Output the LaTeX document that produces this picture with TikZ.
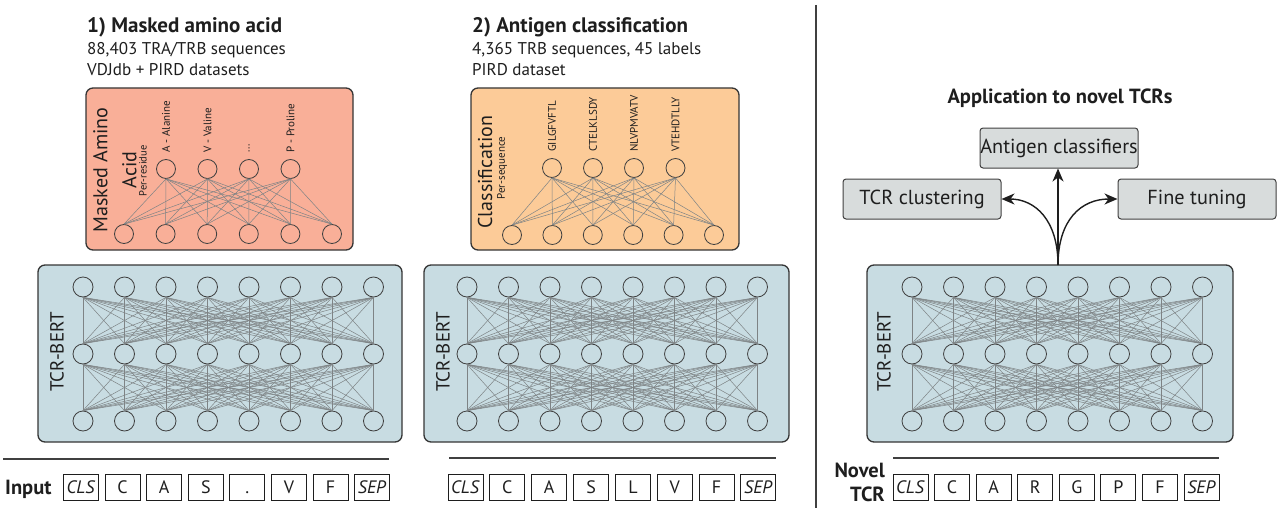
\documentclass[tikz,border=0pt]{standalone}
\usepackage{fontspec}
\setmainfont{PT Sans}
\usetikzlibrary{arrows.meta}
\definecolor{redfill}{HTML}{F9AF98}
\definecolor{orfill}{HTML}{FCCB98}
\definecolor{bluefill}{HTML}{C8DCE2}
\definecolor{grayfill}{HTML}{D8DCDC}
\definecolor{ink}{HTML}{1E1E1E}
\definecolor{edgec}{HTML}{7E8385}
\newcommand{\fs}[1]{\fontsize{#1}{#1}\selectfont}
\tikzset{
  neuron/.style={circle, draw=ink!85, line width=0.8pt, minimum size=20pt, inner sep=0pt},
  smallneuron/.style={circle, draw=ink!85, line width=0.8pt, minimum size=19pt, inner sep=0pt},
  edge/.style={draw=edgec, line width=0.5pt},
  panel/.style={draw=ink!90, line width=1.3pt, rounded corners=7pt, inner sep=0pt},
  tok/.style={draw=ink, line width=1pt, minimum width=35pt, minimum height=26pt, inner sep=0pt, text height=12.6pt, text depth=0pt, font=\fs{18}, text=ink},
  appbox/.style={draw=ink!85, fill=grayfill, rounded corners=3pt, line width=1pt, minimum width=158pt, minimum height=40pt, inner sep=0pt, font=\fs{20.3}, text=ink},
  head/.style={anchor=base west, inner sep=0pt, font=\bfseries\fs{21}, text=ink},
  sub/.style={anchor=base west, inner sep=0pt, font=\fs{17}, text=ink},
  vlabel/.style={rotate=90, inner sep=0pt, text=ink},
  toplabel/.style={rotate=90, inner sep=0pt, text=ink, anchor=west, font=\fs{11}},
  arr/.style={draw=ink, line width=1.4pt, -{Stealth[length=13pt,width=11pt,inset=4pt]}},
}
\begin{document}
\begin{tikzpicture}[x=1pt,y=-1pt]
\useasboundingbox (0,0) rectangle (1280,511);

% ---------- headings ----------
\node[head] (h1) at (87,33) {1) Masked amino acid};
\node[sub] (h1a) at (87,55) {88,403 TRA/TRB sequences};
\node[sub] (h1b) at (87,76) {VDJdb + PIRD datasets};
\node[head] (h2) at (472,33) {2) Antigen classification};
\node[sub] (h2a) at (472,55) {4,365 TRB sequences, 45 labels};
\node[sub] (h2b) at (472,76) {PIRD dataset};
\node[anchor=base, inner sep=0pt, font=\bfseries\fs{20.5}, text=ink] (h3) at (1060,103) {Application to novel TCRs};

% ---------- divider ----------
\draw[draw=ink!85, line width=1.3pt] (816,5) -- (816,508);

% ---------- panels ----------
\node[panel, fill=redfill, minimum width=267pt, minimum height=162pt] (pr) at (219.5,169) {};
\node[panel, fill=orfill, minimum width=268pt, minimum height=162pt] (po) at (605,169) {};
\node[panel, fill=bluefill, minimum width=364pt, minimum height=177pt] (pb1) at (220,353.5) {};
\node[panel, fill=bluefill, minimum width=365pt, minimum height=177pt] (pb2) at (606.5,353.5) {};
\node[panel, fill=bluefill, minimum width=366pt, minimum height=177pt] (pb3) at (1050,353.5) {};

% ---------- panel labels ----------
\node[vlabel, align=center, font=\fs{20}] (lr) at (115,170) {Masked Amino\\[9pt]Acid};
\node[vlabel, font=\fs{10.5}] (lr2) at (143,171) {Per-residue};
\node[vlabel, font=\fs{20}] (lo) at (485,172) {Classification};
\node[vlabel, font=\fs{11}] (lo2) at (502,168) {Per-sequence};
\node[vlabel, font=\fs{19}] (tb1) at (57,352) {TCR-BERT};
\node[vlabel, font=\fs{19}] (tb2) at (443,352) {TCR-BERT};
\node[vlabel, font=\fs{19}] (tb3) at (884,352) {TCR-BERT};

% ---------- masked amino acid head ----------
\foreach \i/\x in {0/166,1/207.5,2/249,3/290.5}
  \node[smallneuron] (rt\i) at (\x,169) {};
\foreach \i in {0,1,2,3,4,5}
  \node[smallneuron] (rb\i) at ({124+41.6*\i},234) {};
\foreach \i in {0,1,2,3}
  \foreach \j in {0,1,2,3,4,5}
    \draw[edge] (rt\i.south) -- (rb\j.north);
\node[toplabel] (rl0) at ([yshift=6pt]rt0.north) {A - Alanine};
\node[toplabel] (rl1) at ([yshift=6pt]rt1.north) {V - Valine};
\node[toplabel] (rl2) at ([yshift=6pt]rt2.north) {...};
\node[toplabel] (rl3) at ([yshift=6pt]rt3.north) {P - Proline};

% ---------- classification head ----------
\foreach \i/\x in {0/552,1/593,2/634,3/675.5}
  \node[smallneuron] (ot\i) at (\x,168) {};
\foreach \i in {0,1,2,3,4,5}
  \node[smallneuron] (ob\i) at ({512+40.4*\i},235) {};
\foreach \i in {0,1,2,3}
  \foreach \j in {0,1,2,3,4,5}
    \draw[edge] (ot\i.south) -- (ob\j.north);
\node[toplabel] (ol0) at ([yshift=6pt]ot0.north) {GILGFVFTL};
\node[toplabel] (ol1) at ([yshift=6pt]ot1.north) {CTELKLSDY};
\node[toplabel] (ol2) at ([yshift=6pt]ot2.north) {NLVPMVATV};
\node[toplabel] (ol3) at ([yshift=6pt]ot3.north) {VTEHDTLLY};

% ---------- TCR-BERT networks ----------
\foreach \k/\xs in {1/83,2/467,3/912}{
  \foreach \r/\y in {0/287,1/354,2/421}
    \foreach \i in {0,1,2,3,4,5,6,7}
      \node[neuron] (b\k-\r-\i) at ({\xs+41.5*\i},\y) {};
  \foreach \i in {0,1,2,3,4,5,6,7}
    \foreach \j in {0,1,2,3,4,5,6,7}{
      \draw[edge] (b\k-0-\i.south) -- (b\k-1-\j.north);
      \draw[edge] (b\k-1-\i.south) -- (b\k-2-\j.north);
    }
}

% ---------- input rules ----------
\draw[draw=ink!85, line width=1.2pt] (3,459) -- (389,459);
\draw[draw=ink!85, line width=1.2pt] (449,458) -- (776,458);
\draw[draw=ink!85, line width=1.2pt] (893,458) -- (1219,458);

% ---------- tokens ----------
\node[anchor=base west, inner sep=0pt, font=\bfseries\fs{20.5}, text=ink] (inp) at (5,494) {Input};
\foreach \i/\t in {0/\textit{CLS},1/C,2/A,3/S,4/.,5/V,6/F,7/\textit{SEP}}
  \node[tok] (ta\i) at ({81+41.6*\i},487) {\t};
\foreach \i/\t in {0/\textit{CLS},1/C,2/A,3/S,4/L,5/V,6/F,7/\textit{SEP}}
  \node[tok] (tc\i) at ({465.5+41.85*\i},487) {\t};
\node[anchor=base east, inner sep=0pt, font=\bfseries\fs{20.5}, text=ink] (nov) at (885,477) {Novel};
\node[anchor=base east, inner sep=0pt, font=\bfseries\fs{20.5}, text=ink] (ntcr) at (885,501) {TCR};
\foreach \i/\t in {0/\textit{CLS},1/C,2/A,3/R,4/G,5/P,6/F,7/\textit{SEP}}
  \node[tok] (tn\i) at ({910.5+41.57*\i},487) {\t};

% ---------- applications ----------
\node[appbox] (ag) at (1059,148) {Antigen classifiers};
\node[appbox] (cl) at (922,199) {TCR clustering};
\node[appbox] (ft) at (1197,199) {Fine tuning};
\coordinate (src) at (1058,265);
\draw[arr] (src) -- (ag.south -| src);
\draw[arr] (src) .. controls (1058,220) and (1035,199) .. (cl.east);
\draw[arr] (src) .. controls (1058,220) and (1081,199) .. (ft.west);
\end{tikzpicture}
\end{document}
